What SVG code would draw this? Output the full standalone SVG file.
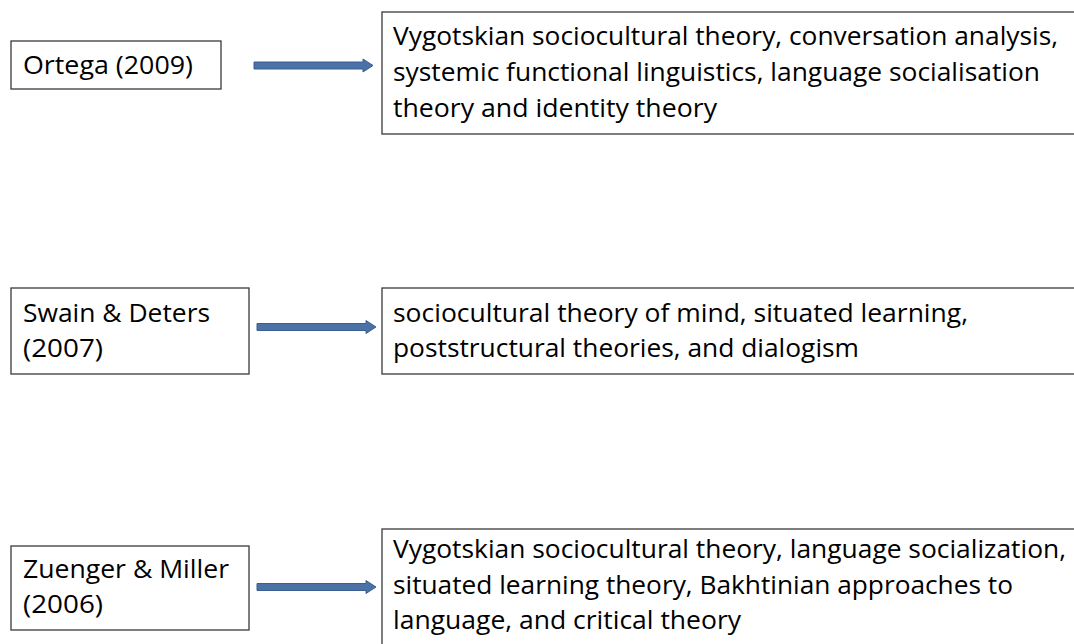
<svg xmlns="http://www.w3.org/2000/svg" width="1074" height="644" viewBox="0 0 1074 644">
<style>
.box{fill:#fff;stroke:#3a3a3a;stroke-width:1.3}
.t{font-family:"Open Sans","Liberation Sans",sans-serif;font-size:25px;fill:#000}
.arr{fill:#4a72a6;stroke:#3b5f8f;stroke-width:1}
</style>
<rect width="1074" height="644" fill="#fff"/>
<g id="connectors">
<path class="arr" d="M254,62 H363 V59 L373,65.5 L363,72 V69 H254 Z"/>
<path class="arr" d="M257,323.5 H366 V320.5 L376,327 L366,333.5 V330.5 H257 Z"/>
<path class="arr" d="M257,583.5 H366 V580.5 L376,587 L366,593.5 V590.5 H257 Z"/>
</g>
<g id="ortega">
<rect class="box" x="11" y="41" width="210" height="48"/>
<text class="t" x="23" y="74" textLength="170" lengthAdjust="spacingAndGlyphs">Ortega (2009)</text>
</g>
<g id="ortega-theories">
<rect class="box" x="382" y="12" width="700" height="122"/>
<text class="t" x="393" y="45" textLength="665" lengthAdjust="spacingAndGlyphs">Vygotskian sociocultural theory, conversation analysis,</text>
<text class="t" x="393" y="81" textLength="647" lengthAdjust="spacingAndGlyphs">systemic functional linguistics, language socialisation</text>
<text class="t" x="393" y="117" textLength="324" lengthAdjust="spacingAndGlyphs">theory and identity theory</text>
</g>
<g id="swain">
<rect class="box" x="11" y="288" width="238" height="86"/>
<text class="t" x="23" y="322" textLength="187" lengthAdjust="spacingAndGlyphs">Swain &amp; Deters</text>
<text class="t" x="23" y="357" textLength="80" lengthAdjust="spacingAndGlyphs">(2007)</text>
</g>
<g id="swain-theories">
<rect class="box" x="382" y="288" width="700" height="86"/>
<text class="t" x="393" y="322" textLength="575" lengthAdjust="spacingAndGlyphs">sociocultural theory of mind, situated learning,</text>
<text class="t" x="393" y="357" textLength="466" lengthAdjust="spacingAndGlyphs">poststructural theories, and dialogism</text>
</g>
<g id="zuenger">
<rect class="box" x="11" y="546" width="238" height="84"/>
<text class="t" x="23" y="578" textLength="206" lengthAdjust="spacingAndGlyphs">Zuenger &amp; Miller</text>
<text class="t" x="23" y="613" textLength="80" lengthAdjust="spacingAndGlyphs">(2006)</text>
</g>
<g id="zuenger-theories">
<rect class="box" x="382" y="529" width="700" height="130"/>
<text class="t" x="393" y="558" textLength="673" lengthAdjust="spacingAndGlyphs">Vygotskian sociocultural theory, language socialization,</text>
<text class="t" x="393" y="594" textLength="620" lengthAdjust="spacingAndGlyphs">situated learning theory, Bakhtinian approaches to</text>
<text class="t" x="393" y="629" textLength="348" lengthAdjust="spacingAndGlyphs">language, and critical theory</text>
</g>
</svg>
